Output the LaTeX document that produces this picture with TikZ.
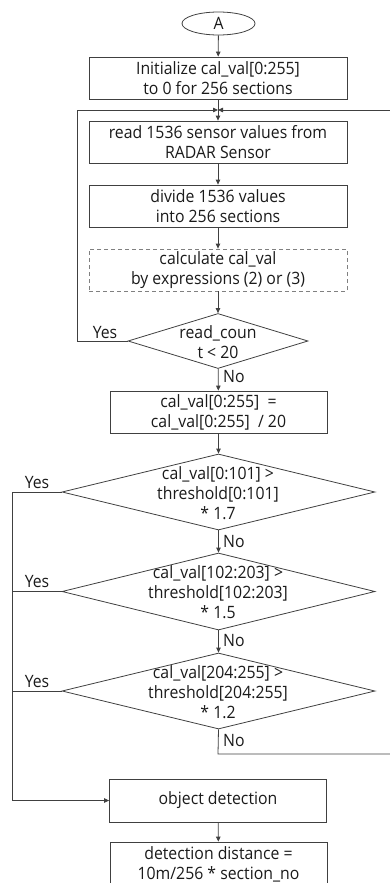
\documentclass[tikz,border=0pt]{standalone}
\usepackage{fontspec}
\setmainfont[FakeStretch=0.93]{Open Sans}
\usetikzlibrary{shapes.geometric,arrows.meta}
\definecolor{linec}{HTML}{404040}
\definecolor{txt}{HTML}{1A1A1A}
\definecolor{dashc}{HTML}{808080}
\begin{document}
\begin{tikzpicture}[x=1pt,y=-1pt,
  lbl/.style={font=\fontsize{17}{20}\selectfont, text=txt, inner sep=0pt, align=center},
  box/.style={lbl, draw=linec, line width=0.8pt, rectangle, minimum width=258pt, minimum height=42pt},
  sbox/.style={box, minimum width=217pt},
  dbox/.style={box, draw=dashc, dash pattern=on 4pt off 3pt},
  dia/.style={draw=linec, line width=0.8pt, diamond, inner sep=0pt},
  ln/.style={draw=linec, line width=0.8pt},
  arr/.style={ln, -{Triangle[length=5pt,width=4.5pt]}},
]
\useasboundingbox (0,0) rectangle (390,883);

\node[draw=linec, line width=0.8pt, ellipse, minimum width=73pt, minimum height=23pt, inner sep=0pt, lbl] (A) at (218.5,23.5) {A};
\node[box] (init) at (218,78) {Initialize cal\_val[0:255]\\to 0 for 256 sections};
\node[box] (read) at (218,142) {read 1536 sensor values from\\RADAR Sensor};
\node[box] (div) at (218,206) {divide 1536 values\\into 256 sections};
\node[dbox] (calc) at (218,270) {calculate cal\_val\\by expressions (2) or (3)};

\node[dia, minimum width=180pt, minimum height=55pt] (rc) at (218,341) {};
\node[lbl] (rct) at (218,342) {read\_coun\\t < 20};

\node[sbox, minimum height=42pt] (avg) at (218.5,412) {cal\_val[0:255] ~=\\cal\_val[0:255] ~/ 20};

\node[dia, minimum width=313pt, minimum height=76pt] (d1) at (218.5,492) {};
\node[lbl] (d1t) at (218,493) {cal\_val[0:101] >\\threshold[0:101]\\* 1.7};
\node[dia, minimum width=313pt, minimum height=77pt] (d2) at (218.5,591.5) {};
\node[lbl] (d2t) at (218,592) {cal\_val[102:203] >\\threshold[102:203]\\* 1.5};
\node[dia, minimum width=313pt, minimum height=76pt] (d3) at (218.5,691) {};
\node[lbl] (d3t) at (218,692) {cal\_val[204:255] >\\threshold[204:255]\\* 1.2};

\node[sbox, minimum height=43pt] (obj) at (218,800.5) {object detection};
\node[sbox, minimum height=44pt] (dist) at (218.5,864) {detection distance =\\10m/256 * section\_no};

% coordinates
\coordinate (m) at (218,110);
\coordinate (mr) at (391,110);
\coordinate (lc) at (77,341);
\coordinate (y1) at (12,492);
\coordinate (y2) at (12,591.5);
\coordinate (y3) at (12,691);
\coordinate (nb) at (218,754);
\coordinate (nr) at (391,754);

% connectors
\draw[arr] (A) -- (init);
\draw[ln] (init) -- (m);
\draw[arr] (rc.west) -- (lc) |- (m);
\draw[arr] (mr) -- (m);
\draw[arr] (m) -- (read);
\draw[arr] (read) -- (div);
\draw[arr] (div) -- (calc);
\draw[arr] (calc) -- (rc);
\draw[arr] (rc) -- (avg);
\draw[arr] (avg) -- (d1);
\draw[arr] (d1) -- (d2);
\draw[arr] (d2) -- (d3);
\draw[ln] (d3.south) -- (nb) -- (nr);
\draw[ln] (d1.west) -- (y1);
\draw[ln] (d2.west) -- (y2);
\draw[arr] (d3.west) -- (y3) |- (obj.west);
\draw[ln] (y1) -- (y3);
\draw[arr] (obj) -- (dist);

% labels
\node[lbl, anchor=center] (yes0) at (105,333) {Yes};
\node[lbl, anchor=west] (no0) at (223,377) {No};
\node[lbl] (yes1) at (37,483) {Yes};
\node[lbl, anchor=west] (no1) at (223,542) {No};
\node[lbl] (yes2) at (37,582) {Yes};
\node[lbl, anchor=west] (no2) at (223,641) {No};
\node[lbl] (yes3) at (37,682) {Yes};
\node[lbl, anchor=west] (no3) at (223,741) {No};
\end{tikzpicture}
\end{document}
